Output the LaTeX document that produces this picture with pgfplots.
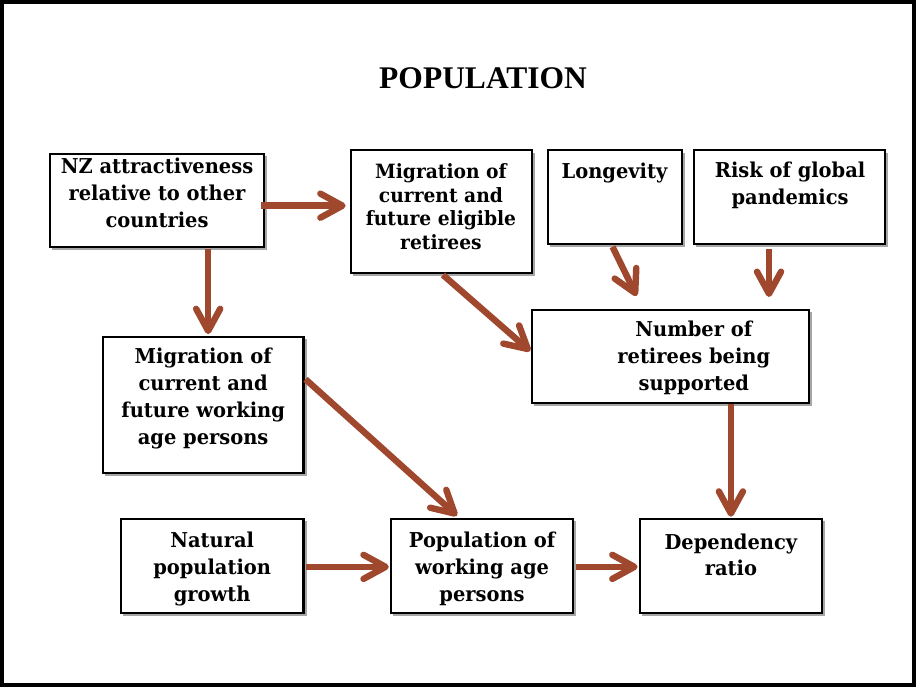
\documentclass[border=0pt]{standalone}
\usepackage{pgfplots}
\pgfplotsset{compat=1.18}
\usepackage{fontspec}
\setmainfont{DejaVu Serif}[FakeStretch=0.95]
\newfontfamily\titlefont{Liberation Serif}
\usetikzlibrary{arrows.meta}
\definecolor{arr}{RGB}{160,72,45}
\begin{document}
\begin{tikzpicture}
\begin{axis}[
  hide axis, scale only axis, clip=false,
  width=458pt, height=344.5pt,
  xmin=0, xmax=916, ymin=0, ymax=689, y dir=reverse,
]
% outer frame
\addplot[black, line width=2pt] coordinates {(3.5,4) (912.5,4) (912.5,684.5) (3.5,684.5)} -- cycle;
% box shadows
\pgfplotsset{sh/.style={black!35, line width=1pt, mark=none}}
\addplot[sh] coordinates {(267,157) (267,250) (53,250)};
\addplot[sh] coordinates {(534,154) (534,276) (353,276)};
\addplot[sh] coordinates {(683,154) (683,247) (550,247)};
\addplot[sh] coordinates {(886,154) (886,247) (695,247)};
\addplot[sh] coordinates {(810,313) (810,406) (534,406)};
\addplot[sh] coordinates {(306,340) (306,475) (106,475)};
\addplot[sh] coordinates {(306,521) (306,615) (124,615)};
\addplot[sh] coordinates {(575,521) (575,615) (393,615)};
\addplot[sh] coordinates {(823,521) (823,615) (641,615)};
% boxes
\pgfplotsset{box/.style={black, line width=1pt, mark=none}}
\addplot[box] coordinates {(51,155) (265,155) (265,248) (51,248)} -- cycle;
\addplot[box] coordinates {(351,152) (532,152) (532,274) (351,274)} -- cycle;
\addplot[box] coordinates {(548,152) (681,152) (681,245) (548,245)} -- cycle;
\addplot[box] coordinates {(693,152) (884,152) (884,245) (693,245)} -- cycle;
\addplot[box] coordinates {(532,311) (808,311) (808,404) (532,404)} -- cycle;
\addplot[box] coordinates {(104,338) (304,338) (304,473) (104,473)} -- cycle;
\addplot[box] coordinates {(122,519) (304,519) (304,613) (122,613)} -- cycle;
\addplot[box] coordinates {(391,519) (573,519) (573,613) (391,613)} -- cycle;
\addplot[box] coordinates {(639,519) (821,519) (821,613) (639,613)} -- cycle;
% arrows
\pgfplotsset{ar/.style={arr, line width=3.2pt, mark=none, -{Straight Barb[length=11pt,width=12pt,round]}}}
\addplot[ar] coordinates {(262,207) (346,207)};
\addplot[ar] coordinates {(209,250) (209,335)};
\addplot[ar] coordinates {(612,248) (636,297)};
\addplot[ar] coordinates {(768,250) (768,298)};
\addplot[ar] coordinates {(443,276) (530,352)};
\addplot[ar] coordinates {(306,380) (457,516)};
\addplot[ar] coordinates {(730,405) (730,517)};
\addplot[ar] coordinates {(306,567) (389,567)};
\addplot[ar] coordinates {(576,567) (637,567)};
% texts
\node[font=\titlefont\bfseries\fontsize{15.7}{18}\selectfont] at (axis cs:483,80) {POPULATION};
\tikzset{bt/.style={align=center, inner sep=0pt, font=\bfseries\fontsize{10.2}{13.4}\selectfont}}
\node[bt] at (axis cs:158,194) {NZ attractiveness\\relative to other\\countries};
\node[bt, font=\bfseries\fontsize{9.8}{11.9}\selectfont] at (axis cs:441,208) {Migration of\\current and\\future eligible\\retirees};
\node[bt] at (axis cs:614,174) {Longevity};
\node[bt] at (axis cs:789,187) {Risk of global\\pandemics};
\node[bt] at (axis cs:693,359) {Number of\\retirees being\\supported};
\node[bt] at (axis cs:204,399) {Migration of\\current and\\future working\\age persons};
\node[bt] at (axis cs:213,569) {Natural\\population\\growth};
\node[bt] at (axis cs:482,569) {Population of\\working age\\persons};
\node[bt] at (axis cs:730,555) {Dependency\\ratio};
\end{axis}
\end{tikzpicture}
\end{document}
